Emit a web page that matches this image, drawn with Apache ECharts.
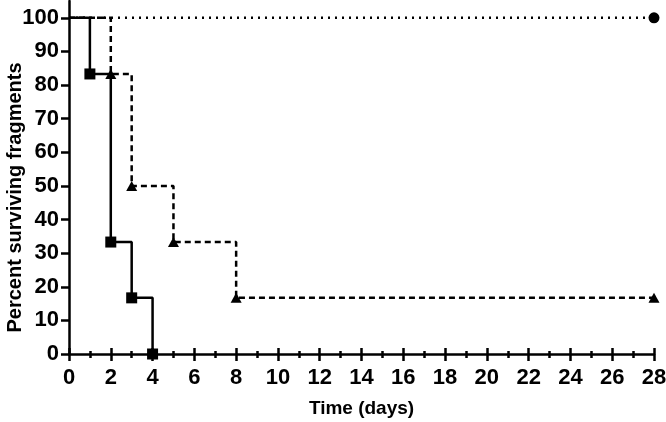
<!DOCTYPE html>
<html>
<head>
<meta charset="utf-8">
<script src="https://cdn.jsdelivr.net/npm/echarts@6/dist/echarts.min.js"></script>
<style>
  html, body { margin: 0; padding: 0; background: #fff; }
  #chart { width: 666px; height: 422px; }
</style>
</head>
<body>
<div id="chart"></div>
<script>
// days / percent surviving
var daysSquare = [0, 1, 2, 3, 4]
var survSquare = [100, 83.3, 33.3, 16.7, 0]
var daysTriangle = [0, 2, 3, 5, 8, 28]
var survTriangle = [100, 83.3, 50, 33.3, 16.7, 16.7]
var daysCircle = [0, 28]
var survCircle = [100, 100]
var yTicks = [0, 10, 20, 30, 40, 50, 60, 70, 80, 90, 100]

// first point is the start of the curve, no marker there
function toSteps (days, surv) {
  return days.map(function (d, i) {
    var item = { value: [d, surv[i]] }
    if (i === 0) item.symbol = 'none'
    return item
  })
}

var font = 'Liberation Sans, Arial, sans-serif'
var chart = echarts.init(document.getElementById('chart'))

var xBase = {
  type: 'value',
  min: 0,
  max: 28,
  interval: 2,
  gridIndex: 0,
  position: 'bottom',
  splitLine: { show: false }
}

chart.setOption({
  animation: false,
  grid: { left: 69, right: 12, top: 1, bottom: 68, outerBoundsMode: 'none', containLabel: false },
  xAxis: [
    Object.assign({}, xBase, {
      name: 'Time (days)',
      nameLocation: 'middle',
      nameGap: 45,
      nameMoveOverlap: false,
      nameTextStyle: { color: '#000', fontSize: 19, fontWeight: 'bold', fontFamily: font },
      axisLine: { lineStyle: { color: '#000', width: 2.5 } },
      axisTick: { length: 7, lineStyle: { color: '#000', width: 2.5 } },
      minorTick: { show: true, splitNumber: 2, length: 4, lineStyle: { color: '#000', width: 2.5 } },
      axisLabel: { color: '#000', fontSize: 22, fontWeight: 'bold', fontFamily: font, margin: 13 }
    }),
    // same axis again, only to draw the upper half of the crossing ticks
    Object.assign({}, xBase, {
      axisLine: { show: false },
      axisLabel: { show: false },
      axisTick: { inside: true, length: 6, lineStyle: { color: '#000', width: 2.5 } },
      minorTick: { show: true, splitNumber: 2, length: 3, lineStyle: { color: '#000', width: 2.5 } }
    })
  ],
  yAxis: {
    type: 'value',
    min: 0,
    max: 105,
    name: 'Percent surviving fragments',
    nameLocation: 'middle',
    nameGap: 44,
    nameMoveOverlap: false,
    nameTextStyle: {
      color: '#000', fontSize: 20, fontWeight: 'bold', fontFamily: font,
      padding: [0, 40, 0, 0]
    },
    splitLine: { show: false },
    axisLine: { show: true, lineStyle: { color: '#000', width: 2.5 } },
    axisTick: { show: true, length: 8, customValues: yTicks, lineStyle: { color: '#000', width: 2.5 } },
    axisLabel: { color: '#000', fontSize: 22, fontWeight: 'bold', fontFamily: font, margin: 10, customValues: yTicks }
  },
  series: [
    {
      name: 'circle',
      type: 'line',
      step: 'end',
      clip: false,
      symbol: 'circle',
      symbolSize: 11,
      itemStyle: { color: '#000' },
      lineStyle: { color: '#000', width: 2.5, type: [2, 5] },
      data: toSteps(daysCircle, survCircle)
    },
    {
      name: 'triangle',
      type: 'line',
      step: 'end',
      clip: false,
      symbol: 'triangle',
      symbolSize: [11, 10],
      itemStyle: { color: '#000' },
      lineStyle: { color: '#000', width: 2.5, type: [6, 4] },
      data: toSteps(daysTriangle, survTriangle)
    },
    {
      name: 'square',
      type: 'line',
      step: 'end',
      clip: false,
      symbol: 'rect',
      symbolSize: 11,
      itemStyle: { color: '#000' },
      lineStyle: { color: '#000', width: 2.5 },
      data: toSteps(daysSquare, survSquare)
    }
  ]
})
</script>
</body>
</html>
